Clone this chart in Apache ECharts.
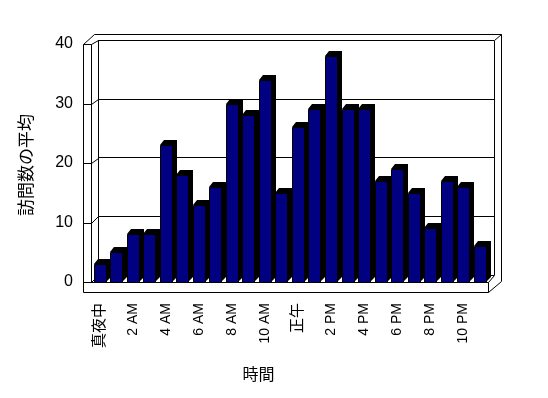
<!DOCTYPE html>
<html>
<head>
<meta charset="utf-8">
<script src="https://cdn.jsdelivr.net/npm/echarts@6/dist/echarts.min.js"></script>
<style>
  html, body { margin: 0; padding: 0; background: #fff; }
  #chart { width: 548px; height: 398px; }
</style>
</head>
<body>
<div id="chart"></div>
<script>
// hourly categories and average visits
const hours = [
  '真夜中', '1 AM', '2 AM', '3 AM', '4 AM', '5 AM', '6 AM', '7 AM', '8 AM', '9 AM', '10 AM', '11 AM',
  '正午', '1 PM', '2 PM', '3 PM', '4 PM', '5 PM', '6 PM', '7 PM', '8 PM', '9 PM', '10 PM', '11 PM'
];
const visits = [3, 5, 8, 8, 23, 18, 13, 16, 30, 28, 34, 15, 26, 29, 38, 29, 29, 17, 19, 15, 9, 17, 16, 6];
const yTicks = [0, 10, 20, 30, 40];

const FONT = "'Liberation Sans', 'Noto Sans CJK JP', sans-serif";

// front plane (bars) and back wall
const front = { left: 91.4, top: 44, width: 396.6, height: 238 };
const back = { left: 98, top: 40.3, width: 396, height: 234.7 };
const wallX = 83;      // outer edge of left wall
const slab = 10;       // floor thickness
const outerTop = 33.7; // top edge of back wall slab
const outerRight = 501;
const depth = [4, -5]; // bar depth offset

const chart = echarts.init(document.getElementById('chart'));

function renderBar(params, api) {
  const top = api.coord([api.value(0), api.value(1)]);
  const base = api.coord([api.value(0), 0]);
  const band = api.size([1, 0])[0];
  const w = Math.round(band * 0.71);
  const x0 = Math.round(top[0] - w / 2);
  const x1 = x0 + w;
  const yt = Math.round(top[1]);
  const yb = Math.round(base[1]);
  return {
    type: 'group',
    children: [
      {
        type: 'polygon',
        shape: {
          points: [
            [x0, yt], [x0 + depth[0], yt + depth[1]], [x1 + depth[0] + 1, yt + depth[1]],
            [x1 + depth[0] + 1, yb + depth[1]], [x1, yb], [x1, yt]
          ]
        },
        style: { fill: '#000' }
      },
      {
        type: 'rect',
        shape: { x: x0 + 0.5, y: yt + 0.5, width: w, height: yb - yt },
        style: { fill: '#000080', stroke: '#000', lineWidth: 1 }
      }
    ]
  };
}

chart.setOption({
  animation: false,
  backgroundColor: '#fff',
  grid: [
    Object.assign({}, front),
    Object.assign({}, back)
  ],
  xAxis: [
    {
      gridIndex: 0,
      type: 'category',
      data: hours,
      offset: slab,
      axisLine: { lineStyle: { color: '#000', width: 1 } },
      axisTick: { inside: true, length: slab, interval: 0, lineStyle: { color: '#000' } },
      axisLabel: {
        interval: 1,
        rotate: 90,
        margin: 11,
        color: '#000',
        fontFamily: FONT,
        formatter: (v) => /[^\x00-\x7f]/.test(v) ? '{j|' + v + '}' : '{e|' + v + '}',
        rich: {
          e: { fontSize: 14, fontFamily: FONT, color: '#000' },
          j: { fontSize: 15, fontFamily: FONT, color: '#000' }
        }
      }
    },
    { gridIndex: 1, type: 'category', data: hours, show: false }
  ],
  yAxis: [
    {
      gridIndex: 0,
      type: 'value',
      min: 0, max: 40, interval: 10,
      offset: front.left - wallX,
      axisLine: { show: false },
      axisTick: { show: false },
      splitLine: { show: false },
      axisLabel: { margin: 10, fontSize: 16, color: '#000', fontFamily: FONT }
    },
    {
      gridIndex: 1,
      type: 'value',
      min: 0, max: 40, interval: 10,
      axisLine: { show: false },
      axisTick: { show: false },
      axisLabel: { show: false },
      splitLine: { lineStyle: { color: '#000', width: 1 } }
    }
  ],
  series: [
    {
      type: 'custom',
      xAxisIndex: 0,
      yAxisIndex: 0,
      renderItem: renderBar,
      clip: false,
      z: 5,
      encode: { x: 0, y: 1 },
      data: visits.map((v, i) => [i, v])
    }
  ]
});

// walls and floor drawn from the axis scales
const yF = (v) => chart.convertToPixel({ yAxisIndex: 0 }, v);
const yB = (v) => chart.convertToPixel({ yAxisIndex: 1 }, v);
const px = (v) => Math.round(v) + 0.5;
const seg = (x1, y1, x2, y2) => ({
  type: 'line',
  silent: true,
  z: 1,
  shape: { x1: px(x1), y1: px(y1), x2: px(x2), y2: px(y2) },
  style: { stroke: '#000', lineWidth: 1 }
});

const fL = front.left;
const fR = front.left + front.width;
const bL = back.left;
const bR = back.left + back.width;
const floorY = yF(0);
const slabY = floorY + slab;

const lines = [];
// left wall
lines.push(seg(wallX, yF(40), wallX, slabY));
lines.push(seg(fL, yF(40), fL, floorY));
yTicks.forEach((v) => {
  lines.push(seg(wallX, yF(v), fL, yF(v)));
  lines.push(seg(fL, yF(v), bL, yB(v)));
});
// floor slab
lines.push(seg(wallX, floorY, fR, floorY));
lines.push(seg(wallX, slabY, fR, slabY));
lines.push(seg(fR, floorY, fR, slabY));
lines.push(seg(fR, floorY, bR, yB(0)));
lines.push(seg(fR, slabY, outerRight, slabY - 11));
// back wall
lines.push(seg(bL, yB(40), bL, yB(0)));
lines.push(seg(bR, yB(40), bR, yB(0)));
lines.push(seg(bR, yB(40), outerRight, outerTop));
lines.push(seg(outerRight, outerTop, outerRight, slabY - 11));
lines.push(seg(wallX, yF(40), 94, outerTop));
lines.push(seg(94, outerTop, outerRight, outerTop));

chart.setOption({
  graphic: lines.concat([
    {
      type: 'text',
      x: 27.5, y: 165,
      rotation: Math.PI / 2,
      style: {
        text: '訪問数の平均', fontSize: 17, fontFamily: FONT, fill: '#000',
        align: 'center', verticalAlign: 'middle'
      }
    },
    {
      type: 'text',
      x: 258.5, y: 376,
      style: {
        text: '時間', fontSize: 16, fontFamily: FONT, fill: '#000',
        align: 'center', verticalAlign: 'middle'
      }
    }
  ])
});
</script>
</body>
</html>
